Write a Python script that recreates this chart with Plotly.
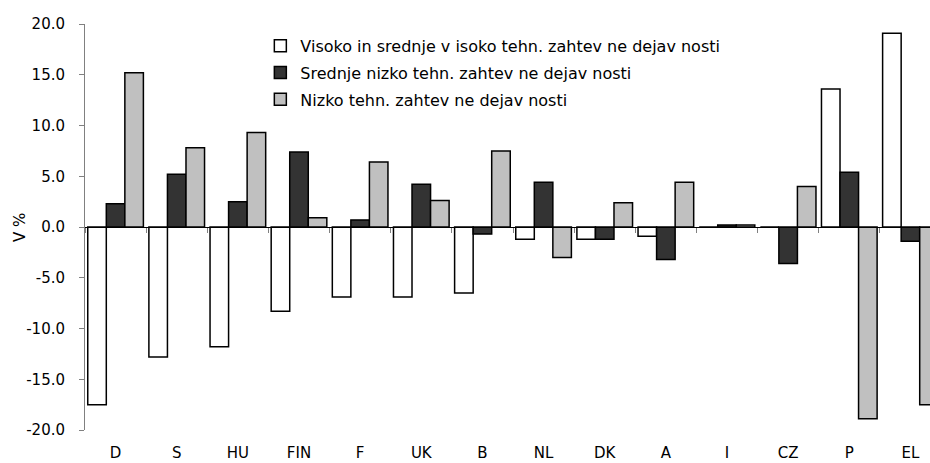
import plotly.graph_objects as go

categories = ["D", "S", "HU", "FIN", "F", "UK", "B", "NL", "DK", "A", "I", "CZ", "P", "EL"]

series_names = [
    "Visoko in srednje v isoko tehn. zahtev ne dejav nosti",
    "Srednje nizko tehn. zahtev ne dejav nosti",
    "Nizko tehn. zahtev ne dejav nosti",
]

high_tech = [-17.5, -12.8, -11.8, -8.3, -6.9, -6.9, -6.5, -1.2, -1.2, -0.9, 0.0, 0.0, 13.6, 19.1]
mid_low_tech = [2.3, 5.2, 2.5, 7.4, 0.7, 4.2, -0.7, 4.4, -1.2, -3.2, 0.2, -3.6, 5.4, -1.4]
low_tech = [15.2, 7.8, 9.3, 0.9, 6.4, 2.6, 7.5, -3.0, 2.4, 4.4, 0.2, 4.0, -18.9, -17.5]

y_ticks = [-20, -15, -10, -5, 0, 5, 10, 15, 20]
y_tick_labels = ["-20.0", "-15.0", "-10.0", "-5.0", "0.0", "5.0", "10.0", "15.0", "20.0"]
y_title = "V %"

colors = ["#FFFFFF", "#333333", "#C0C0C0"]
FONT = "DejaVu Sans"

fig = go.Figure()
for i, (name, vals) in enumerate(zip(series_names, [high_tech, mid_low_tech, low_tech])):
    fig.add_trace(go.Bar(
        x=categories, y=vals, name=name,
        marker=dict(color=colors[i], line=dict(color="#000000", width=1.5)),
        legendgroup=f"g{i}",
    ))

fig.add_annotation(
    text=y_title, xref="paper", yref="paper", x=-0.077, y=0.5,
    xanchor="center", yanchor="middle", textangle=-90, showarrow=False,
    font=dict(family=FONT, size=15, color="#000000"),
)

fig.update_layout(
    width=930, height=463,
    margin=dict(l=85, r=0, t=24, b=33, autoexpand=False),
    paper_bgcolor="white", plot_bgcolor="white",
    barmode="group", bargap=0.09, bargroupgap=0,
    font=dict(family=FONT, size=15, color="#000000"),
    showlegend=True,
    legend=dict(
        x=0.2075, y=0.988, xanchor="left", yanchor="top",
        bgcolor="rgba(0,0,0,0)", borderwidth=0,
        font=dict(family=FONT, size=16, color="#000000"),
        traceorder="grouped", tracegroupgap=3,
        itemwidth=30,
    ),
    xaxis=dict(
        type="category", categoryorder="array", categoryarray=categories,
        range=[-0.5, 13.32],
        anchor="free", position=0.5,
        showline=True, linecolor="#000000", linewidth=1,
        ticks="outside", tickson="boundaries", ticklen=5, tickcolor="#808080", tickwidth=1,
        showgrid=False, zeroline=False, automargin=False,
        tickfont=dict(family=FONT, size=15, color="#000000"),
        ticklabelstandoff=212,
    ),
    yaxis=dict(
        range=[-20, 20], tickvals=y_ticks, ticktext=y_tick_labels,
        showline=True, linecolor="#808080", linewidth=1,
        ticks="outside", ticklen=5, tickcolor="#808080", tickwidth=1,
        showgrid=False, zeroline=False, automargin=False,
        tickfont=dict(family=FONT, size=15, color="#000000"),
        ticklabelstandoff=11,
    ),
)

fig.write_html(
    "out.html",
    config={"displayModeBar": False},
    post_script="document.body.style.margin='0';document.body.style.overflow='hidden';",
)
